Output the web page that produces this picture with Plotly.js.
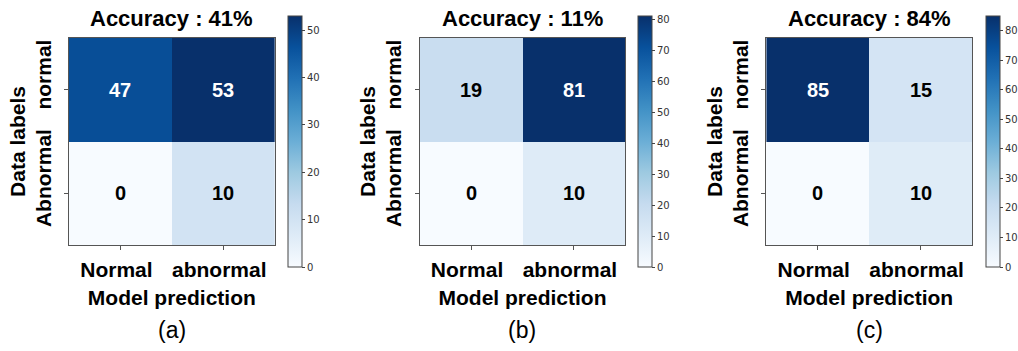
<!DOCTYPE html>
<html>
<head>
<meta charset="utf-8">
<script src="https://cdn.plot.ly/plotly-3.0.1.min.js"></script>
<style>
  html, body { margin: 0; padding: 0; background: #ffffff; }
  #chart { width: 1018px; height: 351px; }
</style>
</head>
<body>
<div id="chart"></div>
<script>
// ---- data ----
const predictedLabels = ['Normal', 'abnormal'];
const actualLabels = ['normal', 'Abnormal'];
const matrixA = [[47, 53], [0, 10]];
const matrixB = [[19, 81], [0, 10]];
const matrixC = [[85, 15], [0, 10]];
const accuracyLabels = ['Accuracy : 41%', 'Accuracy : 11%', 'Accuracy : 84%'];
const panelLabels = ['(a)', '(b)', '(c)'];
const xAxisTitle = 'Model prediction';
const yAxisTitle = 'Data labels';

// ---- layout constants ----
const W = 1018, H = 351;
const boldFont = 'Liberation Sans, Arial, sans-serif';
const blues = [
  [0.0, '#f7fbff'], [0.125, '#deebf7'], [0.25, '#c6dbef'], [0.375, '#9ecae1'],
  [0.5, '#6baed6'], [0.625, '#4292c6'], [0.75, '#2171b5'], [0.875, '#08519c'], [1.0, '#08306b']
];
const matrices = [matrixA, matrixB, matrixC];
const plotPx = [[69, 275], [420, 626], [767, 973]];
const cbPx = [288, 638, 986];
const yDom = [1 - 245 / H, 1 - 38 / H];

const traces = [];
const layout = {
  width: W, height: H,
  margin: {l: 0, r: 0, t: 0, b: 0},
  paper_bgcolor: '#ffffff',
  plot_bgcolor: '#ffffff',
  showlegend: false,
  annotations: []
};

matrices.forEach((m, i) => {
  const sfx = i === 0 ? '' : String(i + 1);
  const zmax = Math.max(...m.flat());
  traces.push({
    type: 'heatmap',
    x: predictedLabels,
    y: actualLabels,
    z: m,
    xaxis: 'x' + sfx,
    yaxis: 'y' + sfx,
    colorscale: blues,
    zmin: 0,
    zmax: zmax,
    xgap: 0, ygap: 0,
    colorbar: {
      x: cbPx[i] / W, xanchor: 'left', xref: 'paper',
      y: 1 - 141.5 / H, yanchor: 'middle', yref: 'paper',
      len: 251 / H, lenmode: 'fraction',
      thickness: 14, thicknessmode: 'pixels',
      xpad: 0, ypad: 0,
      outlinewidth: 1, outlinecolor: '#444444',
      borderwidth: 0,
      ticks: 'outside', ticklen: 3, tickwidth: 1, tickcolor: '#444444',
      dtick: 10,
      tickfont: {family: 'DejaVu Sans, sans-serif', size: 10, color: '#333333'}
    }
  });
  // cell value labels (white on dark cells, black on light cells)
  m.forEach((row, r) => {
    row.forEach((v, c) => {
      layout.annotations.push({
        text: String(v),
        xref: 'x' + sfx, x: predictedLabels[c],
        yref: 'y' + sfx, y: actualLabels[r],
        showarrow: false,
        font: {family: boldFont, size: 20, weight: 'bold',
               color: v > zmax / 2 ? '#ffffff' : '#000000'}
      });
    });
  });
  layout['xaxis' + sfx] = {
    domain: [plotPx[i][0] / W, plotPx[i][1] / W],
    anchor: 'y' + sfx,
    type: 'category',
    showgrid: false, zeroline: false,
    showline: true, mirror: true, linecolor: '#555555', linewidth: 1,
    ticks: 'outside', ticklen: 4, tickcolor: '#555555',
    ticklabelstandoff: 2,
    ticklabelshift: -4,
    tickfont: {family: boldFont, size: 21, color: '#000000', weight: 'bold'},
    title: {text: xAxisTitle, standoff: 10,
            font: {family: boldFont, size: 21, color: '#000000', weight: 'bold'}},
    automargin: false,
    fixedrange: true
  };
  layout['yaxis' + sfx] = {
    domain: yDom,
    anchor: 'x' + sfx,
    type: 'category',
    autorange: 'reversed',
    showgrid: false, zeroline: false,
    showline: true, mirror: true, linecolor: '#555555', linewidth: 1,
    ticks: 'outside', ticklen: 4, tickcolor: '#555555',
    tickangle: -90,
    ticklabelstandoff: 5,
    ticklabelshift: 12,
    tickfont: {family: boldFont, size: 21, color: '#000000', weight: 'bold'},
    title: {text: yAxisTitle, standoff: 0,
            font: {family: boldFont, size: 21, color: '#000000', weight: 'bold'}},
    automargin: false,
    fixedrange: true
  };
  layout.annotations.push({
    text: accuracyLabels[i],
    xref: 'x' + sfx + ' domain', x: 0.5, xanchor: 'center',
    yref: 'paper', y: 1 - 19 / H, yanchor: 'middle',
    showarrow: false,
    font: {family: boldFont, size: 22, color: '#000000', weight: 'bold'}
  });
  layout.annotations.push({
    text: panelLabels[i],
    xref: 'x' + sfx + ' domain', x: 0.5, xanchor: 'center',
    yref: 'paper', y: 1 - 330 / H, yanchor: 'middle',
    showarrow: false,
    font: {family: 'Liberation Sans, Arial, sans-serif', size: 23, color: '#000000'}
  });
});

Plotly.newPlot('chart', traces, layout, {displayModeBar: false, staticPlot: true});
</script>
</body>
</html>
